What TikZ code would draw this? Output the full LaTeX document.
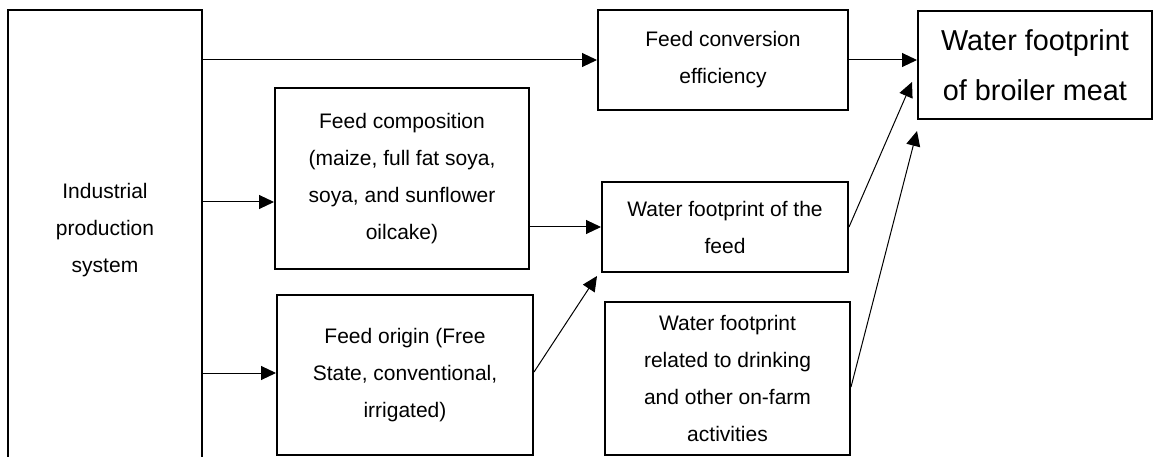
\documentclass[tikz,border=0pt]{standalone}
\usepackage{fontspec}
\setmainfont{Liberation Sans}
\usetikzlibrary{arrows.meta}
\begin{document}
\begin{tikzpicture}[x=1pt,y=-1pt,
  box/.style={draw, line width=2pt, inner sep=0pt, align=center, font=\fontsize{21}{37}\selectfont},
  bigbox/.style={box, font=\fontsize{28.8}{50}\selectfont},
  lbl/.style={align=center, inner sep=0pt, font=\fontsize{21}{37}\selectfont},
  arr/.style={-{Triangle[length=15pt,width=14pt]}, line width=1pt}]
\useasboundingbox (0,0) rectangle (1154,457);
\clip (0,0) rectangle (1154,457);
% boxes
\node[box, minimum width=194pt, minimum height=470pt] (sys) at (105,245) {};
\node[lbl] (syslbl) at (105,230) {Industrial\\production\\system};
\node[box, minimum width=250pt, minimum height=100pt] (fce) at (723,60) {Feed conversion\\efficiency};
\node[bigbox, minimum width=234pt, minimum height=108pt] (wfb) at (1035,65) {Water footprint\\of broiler meat};
\node[box, minimum width=254pt, minimum height=181pt] (comp) at (402,178.5) {Feed composition\\(maize, full fat soya,\\soya, and sunflower\\oilcake)};
\node[box, minimum width=256pt, minimum height=160pt] (orig) at (405,375) {Feed origin (Free\\State, conventional,\\irrigated)};
\node[box, minimum width=246pt, minimum height=90pt] (wff) at (725,227) {Water footprint of the\\feed};
\node[box, minimum width=245pt, minimum height=153pt] (wfd) at (727.5,378.5) {Water footprint\\related to drinking\\and other on-farm\\activities};
% connector end points
\coordinate (compin) at ([yshift=-23.5pt]comp.west);
\coordinate (origin) at ([yshift=2pt]orig.west);
\coordinate (origout) at ([yshift=3pt]orig.east);
\coordinate (wffin) at ([shift={(-4pt,-3pt)}]wff.south west);
\coordinate (wfbin1) at ([shift={(-5pt,-17pt)}]wfb.west);
\coordinate (wfbin2) at ([yshift=-11pt]wfb.south west);
\coordinate (wfdout) at ([yshift=-8.5pt]wfd.east);
% connectors
\draw[arr] (sys.east |- fce.west) -- (fce.west);
\draw[arr] (sys.east |- compin) -- (compin);
\draw[arr] (sys.east |- origin) -- (origin);
\draw[arr] (comp.east |- wff.west) -- (wff.west);
\draw[arr] (origout) -- (wffin);
\draw[arr] (fce.east) -- (wfb.west |- fce.east);
\draw[arr] (wff.east) -- (wfbin1);
\draw[arr] (wfdout) -- (wfbin2);
\end{tikzpicture}
\end{document}
